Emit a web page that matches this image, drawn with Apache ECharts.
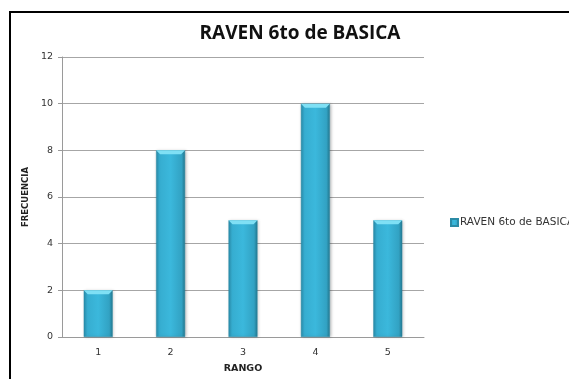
<!DOCTYPE html>
<html>
<head>
<meta charset="utf-8">
<script src="https://cdn.jsdelivr.net/npm/echarts@6/dist/echarts.min.js"></script>
<style>
  html, body { margin: 0; padding: 0; background: #fff; }
  #chart { width: 569px; height: 379px; }
</style>
</head>
<body>
<div id="chart"></div>
<script>
// RAVEN test, 6th grade: frequency per score range
const categories = ['1', '2', '3', '4', '5'];
const frequencies = [2, 8, 5, 10, 5];
const seriesName = 'RAVEN 6to de BASICA';
const chartTitle = 'RAVEN 6to de BASICA';
const xAxisName = 'RANGO';
const yAxisName = 'FRECUENCIA';

const chart = echarts.init(document.getElementById('chart'));

const barFill = new echarts.graphic.LinearGradient(0, 0, 1, 0, [
  { offset: 0, color: '#2a8fae' },
  { offset: 0.12, color: '#36add0' },
  { offset: 0.5, color: '#3bb8dc' },
  { offset: 0.88, color: '#32a2c3' },
  { offset: 1, color: '#24788f' }
]);

chart.setOption({
  animation: false,
  backgroundColor: '#fff',
  title: {
    text: chartTitle,
    left: 295,
    textAlign: 'center',
    top: 19,
    textStyle: { fontFamily: 'Open Sans', fontWeight: 'bold', fontSize: 19, color: '#111' }
  },
  graphic: [{
    type: 'rect',
    shape: { x: 10, y: 12, width: 600, height: 400 },
    style: { fill: 'none', stroke: '#000', lineWidth: 2 },
    silent: true,
    z: 100
  }],
  legend: {
    left: 445,
    top: 212,
    itemWidth: 7,
    itemHeight: 7,
    itemGap: 4,
    icon: 'rect',
    textStyle: { fontFamily: 'DejaVu Sans', fontSize: 10.5, color: '#333', padding: [0, 0, 0, -3] },
    data: [seriesName]
  },
  grid: { left: 62, top: 57, right: 145, bottom: 41 },
  xAxis: {
    type: 'category',
    data: categories,
    name: xAxisName,
    nameLocation: 'middle',
    nameGap: 27,
    nameTextStyle: { fontFamily: 'DejaVu Sans', fontWeight: 'bold', fontSize: 9.5, color: '#222' },
    axisLine: { lineStyle: { color: '#9a9a9a', width: 1 } },
    axisTick: { show: false },
    axisLabel: { fontFamily: 'DejaVu Sans', fontSize: 9.5, color: '#333', margin: 11 }
  },
  yAxis: {
    type: 'value',
    min: 0,
    max: 12,
    interval: 2,
    name: yAxisName,
    nameLocation: 'middle',
    nameGap: 32,
    nameTextStyle: { fontFamily: 'DejaVu Sans', fontWeight: 'bold', fontSize: 8.5, color: '#222' },
    axisLine: { show: true, lineStyle: { color: '#9a9a9a', width: 1 } },
    axisTick: { show: true, length: 4, lineStyle: { color: '#9a9a9a' } },
    splitLine: { lineStyle: { color: '#a6a6a6', width: 1 } },
    axisLabel: { fontFamily: 'DejaVu Sans', fontSize: 9.5, color: '#333', margin: 9 }
  },
  series: [{
    name: seriesName,
    type: 'bar',
    data: frequencies,
    barCategoryGap: '60%',
    itemStyle: {
      color: barFill,
      borderColor: '#2b8ba6',
      borderWidth: 0.5,
      shadowColor: 'rgba(0,0,0,0.25)',
      shadowBlur: 3,
      shadowOffsetX: 1,
      shadowOffsetY: 0
    }
  }, {
    // light bevel along the top edge of each bar
    name: 'bevel',
    type: 'custom',
    silent: true,
    z: 5,
    renderItem: function (params, api) {
      const top = api.coord([api.value(0), api.value(1)]);
      const size = api.size([1, 0]);
      const w = size[0] * 0.4;
      const x0 = top[0] - w / 2;
      return {
        type: 'polygon',
        shape: { points: [[x0, top[1]], [x0 + w, top[1]], [x0 + w - 4, top[1] + 4], [x0 + 4, top[1] + 4]] },
        style: { fill: '#7fe0f5' }
      };
    },
    data: frequencies.map((v, i) => [i, v])
  }]
});
</script>
</body>
</html>
